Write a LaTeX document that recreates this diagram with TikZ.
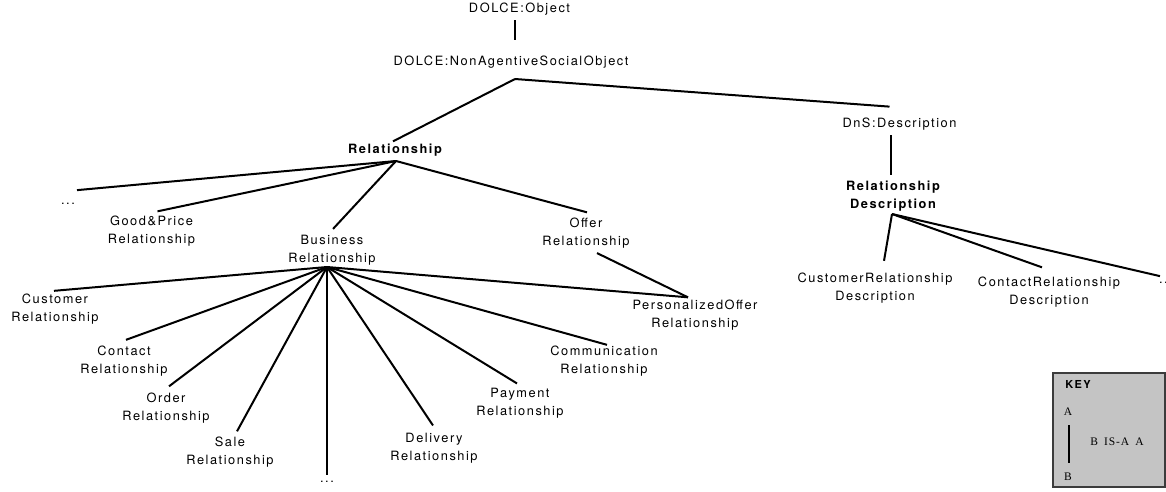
\documentclass[tikz,border=0pt]{standalone}
\usepackage{fontspec}
\newfontfamily\lblfont[LetterSpace=12]{TeX Gyre Heros}
\newfontfamily\keyserif[LetterSpace=8]{Liberation Serif}
\definecolor{keyfill}{HTML}{C4C4C4}
\definecolor{keyedge}{HTML}{3C3C3C}

\begin{document}
\begin{tikzpicture}[x=1pt,y=-1pt,
  lbl/.style={inner sep=0pt, align=center, font=\lblfont\fontsize{12.8}{18}\selectfont},
  hd/.style={inner sep=0pt, align=center, font=\lblfont\bfseries\fontsize{12.8}{18}\selectfont},
  isa/.style={line width=2pt},
  keytxt/.style={inner sep=0pt, font=\keyserif\fontsize{11.5}{14}\selectfont},
]
\useasboundingbox (0,0) rectangle (1166,491);

% ---- class labels ----
\node[lbl] (obj)     at (519.5,9)   {DOLCE:Object};
\node[lbl] (naso)    at (511,62)    {DOLCE:NonAgentiveSocialObject};
\node[hd]  (rel)     at (395,150)   {Relationship};
\node[lbl] (dns)     at (899.5,124) {DnS:Description};
\node[hd]  (reldesc) at (893,196)   {Relationship\\Description};

\node[lbl] (dotsL)   at (68,204)    {...};
\node[lbl] (gp)      at (151.5,231) {Good\&Price\\Relationship};
\node[lbl] (bus)     at (332,250.5) {Business\\Relationship};
\node[lbl] (offer)   at (586,233)   {Offer\\Relationship};

\node[lbl] (cust)    at (55,309.5)  {Customer\\Relationship};
\node[lbl] (cont)    at (124,361.5) {Contact\\Relationship};
\node[lbl] (order)   at (166,408)   {Order\\Relationship};
\node[lbl] (sale)    at (230,452)   {Sale\\Relationship};
\node[lbl] (dotsB)   at (327,482)   {...};
\node[lbl] (deliv)   at (434,448)   {Delivery\\Relationship};
\node[lbl] (pay)     at (520,403)   {Payment\\Relationship};
\node[lbl] (comm)    at (604,361.5) {Communication\\Relationship};
\node[lbl] (pers)    at (695,315)   {PersonalizedOffer\\Relationship};

\node[lbl] (crd)     at (875,288.5) {CustomerRelationship\\Description};
\node[lbl] (cnrd)    at (1049,292)  {ContactRelationship\\Description};
\node[lbl] (dotsR)   at (1166,283)  {...};

% ---- branching points below the parents ----
\coordinate (objJ)     at (515,20);
\coordinate (nasoJ)    at (515,79);
\coordinate (relJ)     at (396,161);
\coordinate (dnsJ)     at (891,135);
\coordinate (reldescJ) at (892,214);
\coordinate (busJ)     at (327,267);

% ---- IS-A links ----
\draw[isa] (objJ) -- ([xshift=4,yshift=16]naso.north);
\draw[isa] (nasoJ) -- ([xshift=-2,yshift=2.3]rel.north);
\draw[isa] (nasoJ) -- ([xshift=-10,yshift=11]dns.north);
\draw[isa] (dnsJ) -- ([xshift=-2,yshift=6]reldesc.north);

\draw[isa] (relJ) -- ([xshift=9,yshift=13]dotsL.north);
\draw[isa] (relJ) -- ([xshift=6,yshift=4.3]gp.north);
\draw[isa] (relJ) -- ([xshift=1,yshift=6.3]bus.north);
\draw[isa] (relJ) -- ([xshift=1,yshift=5.3]offer.north);

\draw[isa] (busJ) -- ([xshift=-1,yshift=3.3]cust.north);
\draw[isa] (busJ) -- ([xshift=2,yshift=6.3]cont.north);
\draw[isa] (busJ) -- ([xshift=3,yshift=6.3]order.north);
\draw[isa] (busJ) -- ([xshift=7,yshift=5.3]sale.north);
\draw[isa] (busJ) -- ([yshift=6]dotsB.north);
\draw[isa] (busJ) -- ([xshift=-1,yshift=7.3]deliv.north);
\draw[isa] (busJ) -- ([xshift=-3,yshift=4.3]pay.north);
\draw[isa] (busJ) -- ([xshift=3,yshift=1.3]comm.north);
\draw[isa] (busJ) -- ([xshift=-7,yshift=2.3]pers.north);
\draw[isa] ([xshift=11,yshift=-4.7]offer.south) -- ([xshift=-7,yshift=2.3]pers.north);

\draw[isa] (reldescJ) -- ([xshift=9,yshift=12.3]crd.north);
\draw[isa] (reldescJ) -- ([xshift=-7,yshift=9.3]cnrd.north);
\draw[isa] (reldescJ) -- ([xshift=-6,yshift=6]dotsR.north);

% ---- legend ----
\node[draw=keyedge, fill=keyfill, line width=1.5pt, minimum width=112, minimum height=114, inner sep=0pt] (key) at (1109,430) {};
\node[inner sep=0pt, font=\lblfont\bfseries\fontsize{11}{13}\selectfont] (keyhd) at (1078,384) {KEY};
\node[keytxt] (keyA) at (1068,412) {A};
\node[keytxt] (keyB) at (1068,477) {B};
\node[keytxt] (keyrel) at (1117,442) {B\hspace{6pt}IS-A\hspace{6pt}A};
\draw[isa] ([xshift=1,yshift=-9]keyA.south) -- ([xshift=1,yshift=10]keyB.north);
\end{tikzpicture}
\end{document}
